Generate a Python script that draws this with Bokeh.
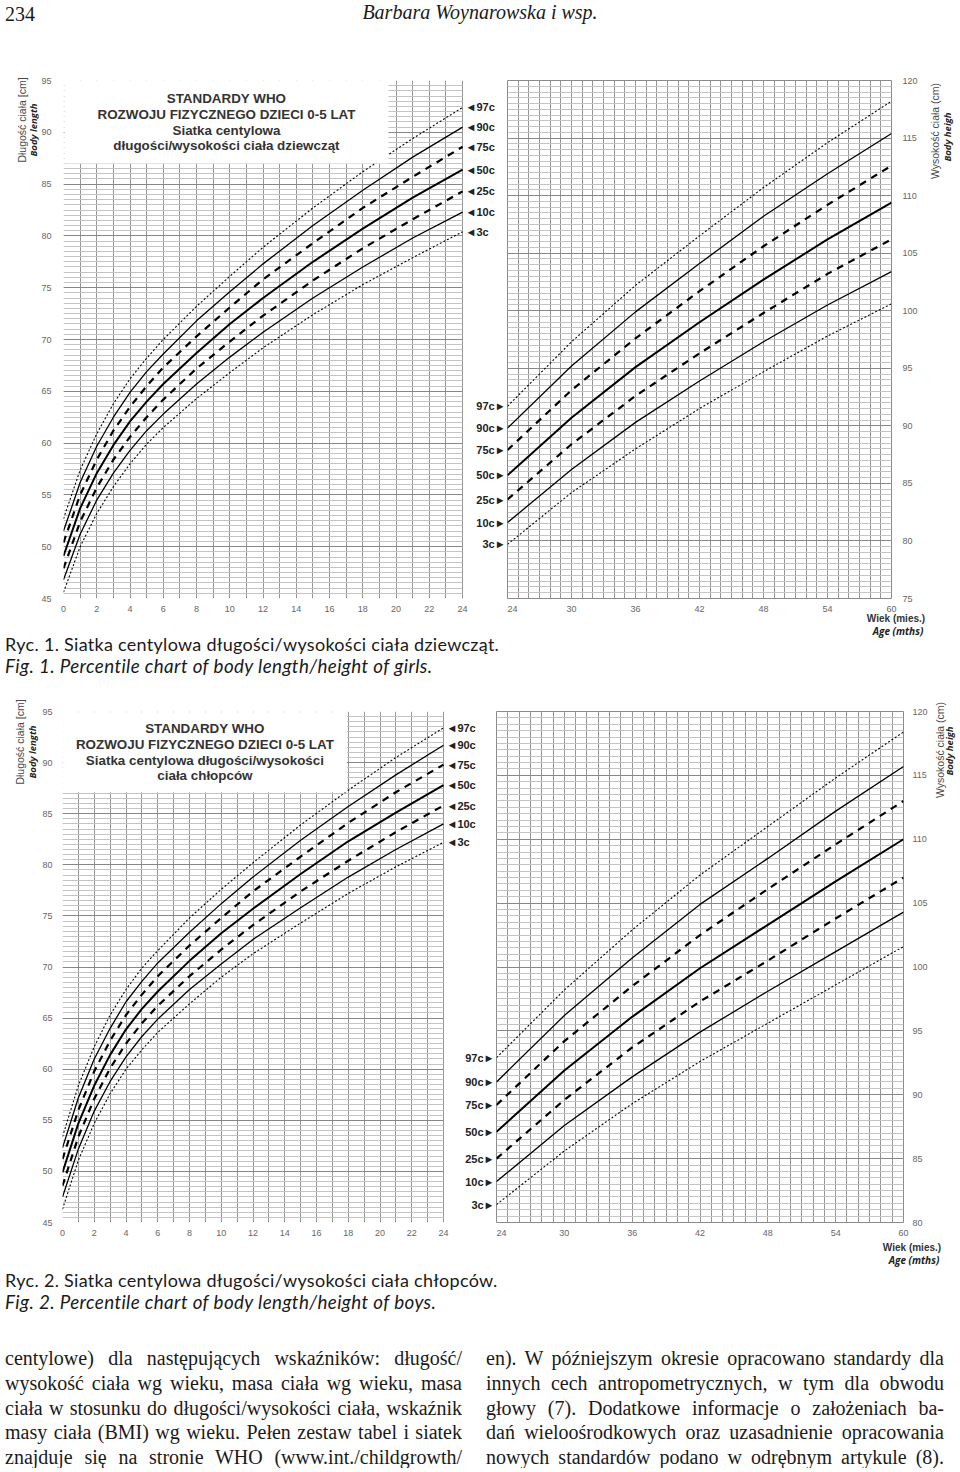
import math
from bokeh.plotting import figure
from bokeh.models import Range1d, FixedTicker, Label, LabelSet, ColumnDataSource, Div
from bokeh.layouts import column, row
from bokeh.embed import file_html
from bokeh.resources import INLINE
from bokeh.core.properties import value

# ---------------- data (WHO length/height-for-age) ----------------
months_0_24 = [0, 1, 2, 3, 4, 5, 6, 8, 10, 12, 15, 18, 21, 24]
months_24_60 = [24, 30, 36, 42, 48, 54, 60]
percentile_names = ["97c", "90c", "75c", "50c", "25c", "10c", "3c"]

girls_len_p97 = [52.7, 57.4, 60.9, 63.8, 66.2, 68.2, 70.0, 73.2, 76.1, 78.9, 82.7, 86.2, 89.4, 92.4]
girls_len_p90 = [51.5, 56.2, 59.7, 62.5, 64.9, 66.9, 68.6, 71.8, 74.6, 77.3, 81.0, 84.4, 87.6, 90.5]
girls_len_p75 = [50.4, 55.0, 58.4, 61.2, 63.5, 65.5, 67.3, 70.3, 73.1, 75.8, 79.3, 82.7, 85.7, 88.6]
girls_len_p50 = [49.1, 53.7, 57.1, 59.8, 62.1, 64.0, 65.7, 68.7, 71.5, 74.0, 77.5, 80.7, 83.7, 86.4]
girls_len_p25 = [47.9, 52.4, 55.7, 58.4, 60.6, 62.5, 64.2, 67.2, 69.8, 72.3, 75.7, 78.8, 81.6, 84.3]
girls_len_p10 = [46.8, 51.2, 54.5, 57.1, 59.3, 61.2, 62.8, 65.7, 68.3, 70.7, 74.0, 77.0, 79.8, 82.3]
girls_len_p3 = [45.6, 50.0, 53.2, 55.8, 58.0, 59.9, 61.5, 64.3, 66.8, 69.2, 72.4, 75.3, 77.9, 80.4]

girls_hgt_p97 = [91.7, 97.3, 102.2, 106.5, 110.7, 114.6, 118.2]
girls_hgt_p90 = [89.8, 95.2, 99.9, 104.1, 108.2, 111.9, 115.4]
girls_hgt_p75 = [87.9, 93.1, 97.6, 101.7, 105.6, 109.2, 112.6]
girls_hgt_p50 = [85.7, 90.7, 95.1, 99.0, 102.7, 106.2, 109.4]
girls_hgt_p25 = [83.6, 88.4, 92.6, 96.3, 99.8, 103.2, 106.2]
girls_hgt_p10 = [81.6, 86.2, 90.3, 93.9, 97.3, 100.5, 103.4]
girls_hgt_p3 = [79.7, 84.2, 88.0, 91.5, 94.7, 97.8, 100.6]

boys_len_p97 = [53.4, 58.4, 62.2, 65.3, 67.8, 69.9, 71.6, 74.8, 77.6, 80.2, 83.9, 87.3, 90.5, 93.4]
boys_len_p90 = [52.3, 57.2, 61.0, 64.0, 66.6, 68.6, 70.4, 73.4, 76.2, 78.8, 82.4, 85.7, 88.8, 91.7]
boys_len_p75 = [51.2, 56.0, 59.8, 62.8, 65.3, 67.3, 69.1, 72.1, 74.8, 77.4, 80.8, 84.1, 87.1, 89.8]
boys_len_p50 = [49.9, 54.7, 58.4, 61.4, 63.9, 65.9, 67.6, 70.6, 73.3, 75.7, 79.1, 82.3, 85.1, 87.8]
boys_len_p25 = [48.6, 53.4, 57.1, 60.1, 62.5, 64.5, 66.2, 69.1, 71.7, 74.1, 77.4, 80.4, 83.2, 85.8]
boys_len_p10 = [47.5, 52.2, 55.9, 58.8, 61.2, 63.2, 64.9, 67.8, 70.3, 72.7, 75.8, 78.8, 81.5, 84.0]
boys_len_p3 = [46.3, 51.1, 54.7, 57.6, 60.0, 61.9, 63.6, 66.4, 69.0, 71.3, 74.3, 77.2, 79.8, 82.2]

boys_hgt_p97 = [92.9, 98.2, 102.9, 107.2, 111.0, 114.8, 118.4]
boys_hgt_p90 = [91.0, 96.2, 100.7, 104.9, 108.5, 112.2, 115.7]
boys_hgt_p75 = [89.2, 94.2, 98.5, 102.5, 106.1, 109.6, 113.0]
boys_hgt_p50 = [87.1, 91.9, 96.1, 99.9, 103.3, 106.7, 110.0]
boys_hgt_p25 = [85.0, 89.6, 93.7, 97.3, 100.5, 103.8, 107.0]
boys_hgt_p10 = [83.2, 87.6, 91.4, 94.9, 98.1, 101.2, 104.3]
boys_hgt_p3 = [81.4, 85.6, 89.3, 92.6, 95.6, 98.6, 101.6]

x_ticks_0_24 = [0, 2, 4, 6, 8, 10, 12, 14, 16, 18, 20, 22, 24]
x_ticks_24_60 = [24, 30, 36, 42, 48, 54, 60]
length_ticks = [45, 50, 55, 60, 65, 70, 75, 80, 85, 90, 95]
girls_height_ticks = [75, 80, 85, 90, 95, 100, 105, 110, 115, 120]
boys_height_ticks = [80, 85, 90, 95, 100, 105, 110, 115, 120]

# ---------------- styling ----------------
FONT = "Liberation Sans"
LINE_STYLES = [
    dict(line_width=1.1, line_dash="2 2"),   # 97c
    dict(line_width=1.3),                    # 90c
    dict(line_width=2.2, line_dash="7 6"),   # 75c
    dict(line_width=2.0),                    # 50c
    dict(line_width=2.2, line_dash="7 6"),   # 25c
    dict(line_width=1.3),                    # 10c
    dict(line_width=1.1, line_dash="2 2"),   # 3c
]


def style_fig(p, outline=True):
    p.background_fill_color = "white"
    p.border_fill_color = "white"
    p.outline_line_color = "#8a8a8a" if outline else None
    p.outline_line_width = 1


def style_axis(ax, ticks, standoff):
    ax.ticker = FixedTicker(ticks=ticks)
    ax.axis_line_color = None
    ax.major_tick_line_color = None
    ax.minor_tick_line_color = None
    ax.major_tick_out = 0
    ax.major_tick_in = 0
    ax.minor_tick_out = 0
    ax.minor_tick_in = 0
    ax.major_label_text_font = FONT
    ax.major_label_text_font_size = "9px"
    ax.major_label_text_color = "#666666"
    ax.major_label_standoff = standoff


def style_grid(p, xlo, xhi, ylo, yhi, cross=None):
    p.xgrid.ticker = FixedTicker(ticks=list(range(xlo, xhi + 1)))
    p.xgrid.grid_line_color = "#959595"
    p.xgrid.grid_line_width = 1
    p.ygrid.ticker = FixedTicker(ticks=list(range(ylo, yhi + 1, 5)),
                                 minor_ticks=[ylo + 0.5 * i for i in range(2 * (yhi - ylo) + 1)])
    p.ygrid.grid_line_color = "#888888"
    p.ygrid.minor_grid_line_color = "#c4c4c4"
    p.ygrid.minor_grid_line_width = 1
    if cross is not None:
        p.ygrid.cross_bounds = cross
        p.xgrid.bounds = (xlo, xhi)


def vtext(cx, cy, text, style):
    return (f'<div style="position:absolute;left:{cx}px;top:{cy}px;white-space:nowrap;line-height:1;'
            f'transform:translate(-50%,-50%) rotate(-90deg);{style}">{text}</div>')


TITLE_STYLE = "font-family:'Liberation Sans',sans-serif;font-size:10.5px;color:#4a4a4a;"
EN_STYLE = "font-family:'Open Sans',sans-serif;font-size:9.5px;font-weight:bold;font-style:italic;color:#222;"


def side_div(w, h, items):
    inner = "".join(vtext(cx, cy, t, st) for cx, cy, t, st in items)
    return Div(width=w, height=h, margin=0,
               text=f'<div style="position:relative;width:{w}px;height:{h}px;">{inner}</div>')


def build_chart(len_series, hgt_series, hgt_lo, hgt_ticks, g):
    top, bottom, fh = g["top"], g["bottom"], g["frame_h"]
    H = top + fh + bottom
    # left panel: frame extends into the gap so that the percentile labels are drawn in it
    x_end = months_0_24[-1] * (g["fl_w"] + g["gap"]) / g["fl_w"]
    pl = figure(width=g["l_left"] + g["fl_w"] + g["gap"], height=H,
                x_range=Range1d(months_0_24[0], x_end),
                y_range=Range1d(length_ticks[0], length_ticks[-1]),
                output_backend="svg", toolbar_location=None,
                min_border_left=g["l_left"], min_border_right=0,
                min_border_top=top, min_border_bottom=bottom)
    pl.extra_y_ranges = {"hgt": Range1d(hgt_lo, hgt_ticks[-1])}
    style_fig(pl, outline=False)
    style_axis(pl.xaxis[0], x_ticks_0_24, g["x_standoff"])
    style_axis(pl.yaxis[0], length_ticks, g["yl_standoff"])
    style_grid(pl, 0, 24, length_ticks[0], length_ticks[-1], cross=(0, 24))

    pr = figure(width=g["fr_w"] + g["r_right"], height=H,
                x_range=Range1d(months_24_60[0], months_24_60[-1]),
                y_range=Range1d(hgt_lo, hgt_ticks[-1]),
                y_axis_location="right",
                output_backend="svg", toolbar_location=None,
                min_border_left=0, min_border_right=g["r_right"],
                min_border_top=top, min_border_bottom=bottom)
    style_fig(pr)
    style_axis(pr.xaxis[0], x_ticks_24_60, g["x_standoff"])
    style_axis(pr.yaxis[0], hgt_ticks, g["yr_standoff"])
    style_grid(pr, 24, 60, hgt_lo, hgt_ticks[-1])

    for vals, st in zip(len_series, LINE_STYLES):
        pl.line(months_0_24, vals, line_color="black", **st)
    for vals, st in zip(hgt_series, LINE_STYLES):
        pr.line(months_24_60, vals, line_color="black", **st)

    # percentile labels
    src_l = ColumnDataSource(dict(x=[months_0_24[-1]] * len(len_series),
                                  y=[v[-1] for v in len_series],
                                  t=["\u25c4" + n for n in percentile_names]))
    pl.add_layout(LabelSet(x="x", y="y", text="t", source=src_l, x_offset=3,
                           text_align="left", text_baseline="middle",
                           text_font=value(FONT), text_font_style="bold",
                           text_font_size="11px", text_color="#222222"))
    src_r = ColumnDataSource(dict(x=[months_0_24[-1]] * len(hgt_series),
                                  y=[v[0] for v in hgt_series],
                                  t=[n + "\u25ba" for n in percentile_names]))
    pl.add_layout(LabelSet(x="x", y="y", text="t", source=src_r, x_offset=g["gap"] - 2,
                           y_range_name="hgt",
                           text_align="right", text_baseline="middle",
                           text_font=value(FONT), text_font_style="bold",
                           text_font_size="11px", text_color="#222222"))

    # title box
    bx, by, pad = g["box"]
    pl.add_layout(Label(x=bx, y=by, text="\n".join(g["box_lines"]),
                        text_align="center", text_baseline="middle",
                        text_font=FONT, text_font_style="bold", text_font_size="13.4px",
                        text_color="#333333", text_line_height=1.045,
                        background_fill_color="white",
                        padding=dict(left=pad[0], right=pad[1], top=pad[2], bottom=pad[3])))

    (a1, a2), (b1, b2) = g["ltitles"], g["rtitles"]
    dl = side_div(g["divl_w"], H, [(a1[0], a1[1], "Długość ciała [cm]", TITLE_STYLE),
                                   (a2[0], a2[1], "Body length", EN_STYLE)])
    dr = side_div(g["divr_w"], H, [(b1[0], b1[1], "Wysokość ciała (cm)", TITLE_STYLE),
                                   (b2[0], b2[1], "Body heigh", EN_STYLE)])
    return row(dl, pl, pr, dr)


girls_geo = dict(top=18, bottom=20, frame_h=518, divl_w=38, l_left=24, fl_w=400, gap=45,
                 fr_w=384, r_right=30, divr_w=39, x_standoff=7, yl_standoff=12, yr_standoff=11,
                 box=(9.8, 91.0, (33, 33, 11, 10)),
                 box_lines=["STANDARDY WHO", "ROZWOJU FIZYCZNEGO DZIECI 0-5 LAT",
                            "Siatka centylowa", "długości/wysokości ciała dziewcząt"],
                 ltitles=((22, 58), (34, 68)),
                 rtitles=((14, 69), (27, 75)))

boys_geo = dict(top=13, bottom=22, frame_h=511, divl_w=38, l_left=24, fl_w=381, gap=53,
                fr_w=407, r_right=27, divr_w=30, x_standoff=7, yl_standoff=10, yr_standoff=9,
                box=(8.97, 91.0, (13, 13, 9, 9)),
                box_lines=["STANDARDY WHO", "ROZWOJU FIZYCZNEGO DZIECI 0-5 LAT",
                           "Siatka centylowa długości/wysokości", "ciała chłopców"],
                ltitles=((20, 44), (33, 54)),
                rtitles=((10, 52), (20, 53)))

girls_row = build_chart(
    [girls_len_p97, girls_len_p90, girls_len_p75, girls_len_p50, girls_len_p25, girls_len_p10, girls_len_p3],
    [girls_hgt_p97, girls_hgt_p90, girls_hgt_p75, girls_hgt_p50, girls_hgt_p25, girls_hgt_p10, girls_hgt_p3],
    girls_height_ticks[0], girls_height_ticks, girls_geo)
boys_row = build_chart(
    [boys_len_p97, boys_len_p90, boys_len_p75, boys_len_p50, boys_len_p25, boys_len_p10, boys_len_p3],
    [boys_hgt_p97, boys_hgt_p90, boys_hgt_p75, boys_hgt_p50, boys_hgt_p25, boys_hgt_p10, boys_hgt_p3],
    boys_height_ticks[0], boys_height_ticks, boys_geo)

# ---------------- texts ----------------
header = Div(width=960, height=62, margin=0, text=(
    '<div style="position:relative;width:960px;height:62px;font-family:\'Liberation Serif\',serif;'
    'color:#1a1a1a;font-size:20px;">'
    '<div style="position:absolute;left:5px;top:4px;line-height:20px;">234</div>'
    '<div style="position:absolute;left:0;top:2px;width:960px;text-align:center;line-height:20px;'
    'font-style:italic;">Barbara Woynarowska i wsp.</div></div>'))


def caption(h, wiek_c, wiek_y, cap_y, l1, l2):
    age_style = ("position:absolute;width:120px;text-align:center;line-height:12px;white-space:nowrap;"
                 "font-size:10px;")
    return Div(width=960, height=h, margin=0, text=(
        f'<div style="position:relative;width:960px;height:{h}px;color:#1a1a1a;">'
        f'<div style="{age_style}left:{wiek_c - 60}px;top:{wiek_y - 6}px;'
        'font-family:\'Liberation Sans\',sans-serif;font-weight:bold;color:#333;">Wiek (mies.)</div>'
        f'<div style="{age_style}left:{wiek_c - 58}px;top:{wiek_y + 6}px;'
        'font-family:\'Open Sans\',sans-serif;font-weight:bold;font-style:italic;color:#222;">Age (mths)</div>'
        f'<div style="position:absolute;left:5px;top:{cap_y - 11}px;line-height:20px;white-space:nowrap;'
        f'font-family:Lato,sans-serif;font-size:18px;letter-spacing:0.29px;">{l1}</div>'
        f'<div style="position:absolute;left:5px;top:{cap_y + 11}px;line-height:20px;white-space:nowrap;'
        f'font-family:Lato,sans-serif;font-size:18.8px;letter-spacing:0.38px;font-style:italic;">{l2}</div></div>'))


cap1 = caption(80, 896, 1, 27, "Ryc. 1. Siatka centylowa długości/wysokości ciała dziewcząt.",
               "Fig. 1. Percentile chart of body length/height of girls.")
cap2 = caption(96, 912, 4, 37, "Ryc. 2. Siatka centylowa długości/wysokości ciała chłopców.",
               "Fig. 2. Percentile chart of body length/height of boys.")

left_lines = ["centylowe) dla następujących wskaźników: długość/",
              "wysokość ciała wg wieku, masa ciała wg wieku, masa",
              "ciała w stosunku do długości/wysokości ciała, wskaźnik",
              "masy ciała (BMI) wg wieku. Pełen zestaw tabel i siatek",
              "znajduje się na stronie WHO (www.int./childgrowth/"]
right_lines = ["en). W późniejszym okresie opracowano standardy dla",
               "innych cech antropometrycznych, w tym dla obwodu",
               "głowy (7). Dodatkowe informacje o założeniach ba-",
               "dań wieloośrodkowych oraz uzasadnienie opracowania",
               "nowych standardów podano w odrębnym artykule (8)."]


def col_html(lines, left, width):
    inner = "".join(f'<div style="text-align:justify;text-align-last:justify;">{t}</div>' for t in lines)
    return f'<div style="position:absolute;left:{left}px;top:6px;width:{width}px;">{inner}</div>'


body = Div(width=960, height=128, margin=0, text=(
    '<div style="position:relative;width:960px;height:128px;overflow:hidden;'
    'font-family:\'Liberation Serif\',serif;font-size:20px;line-height:24.8px;color:#1a1a1a;">'
    + col_html(left_lines, 5, 457) + col_html(right_lines, 486, 458) + '</div>'))

page = column(header, girls_row, cap1, boys_row, cap2, body)

open("out.html", "w").write(file_html(page, INLINE))
